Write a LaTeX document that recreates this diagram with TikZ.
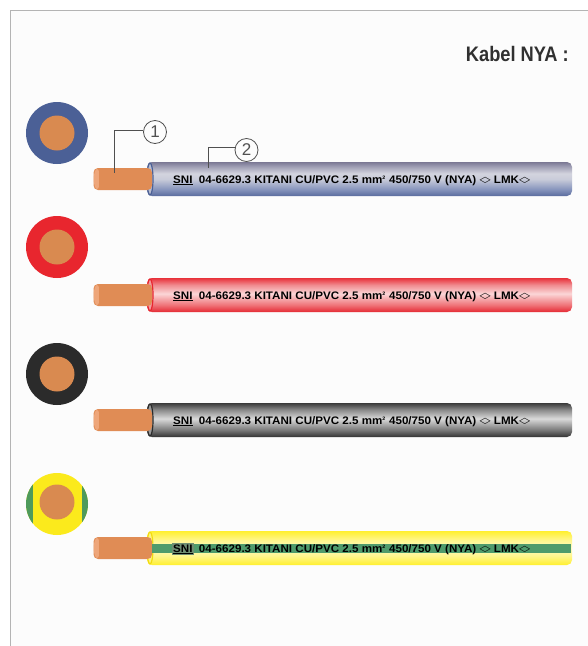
\documentclass[tikz,border=0pt]{standalone}
\usepackage{fontspec}
\setmainfont{Liberation Sans}
\newfontfamily\symfont{DejaVu Sans}
\usetikzlibrary{calc}

% palette
\definecolor{framegrey}{HTML}{B4B4B4}
\definecolor{pagebg}{HTML}{FCFCFC}
\definecolor{titlecol}{HTML}{303030}
\definecolor{printcol}{HTML}{2A2A2A}
\definecolor{printgreen}{HTML}{1E3A28}
\definecolor{leadcol}{HTML}{505050}
\definecolor{coppercore}{HTML}{D98A50}
\definecolor{copper}{HTML}{E08C55}
\definecolor{copperlight}{HTML}{EEA67A}
\definecolor{ringblue}{HTML}{4B6096}
\definecolor{ringred}{HTML}{E8262E}
\definecolor{ringblack}{HTML}{2B2B2B}
\definecolor{ringyellow}{HTML}{FBEA1C}
\definecolor{ringgreen}{HTML}{4E9A5C}
\definecolor{stripegreen}{HTML}{4F9B6C}
\definecolor{snibox}{HTML}{6E8E72}
\definecolor{faceblue}{HTML}{B9BDD0}
\definecolor{facered}{HTML}{F29A9E}
\definecolor{faceblack}{HTML}{9A9A9A}
\definecolor{faceyellow}{HTML}{FFF480}
\definecolor{rimyellow}{HTML}{F2DC10}

% shading stops
\definecolor{bA}{HTML}{5A6C9E}\definecolor{bB}{HTML}{8795BD}\definecolor{bC}{HTML}{C9CCDA}
\definecolor{bD}{HTML}{D3D4DE}\definecolor{bE}{HTML}{9C9BB2}\definecolor{bF}{HTML}{7B7894}
\definecolor{rA}{HTML}{E52A34}\definecolor{rB}{HTML}{EF7176}\definecolor{rC}{HTML}{FBD6D7}
\definecolor{rD}{HTML}{F08A8E}\definecolor{rE}{HTML}{E8313A}
\definecolor{kA}{HTML}{333333}\definecolor{kB}{HTML}{777777}\definecolor{kC}{HTML}{DADADA}
\definecolor{kD}{HTML}{8A8A8A}\definecolor{kE}{HTML}{3A3A3A}
\definecolor{yA}{HTML}{FFEF2E}\definecolor{yB}{HTML}{FFF68A}\definecolor{yC}{HTML}{FFFBC4}

% insulation shadings (25bp = lower edge, 75bp = upper edge)
\pgfdeclareverticalshading{insblue}{100bp}{color(0bp)=(bA); color(25bp)=(bA);
  color(35bp)=(bB); color(50bp)=(bC); color(58bp)=(bD);
  color(69bp)=(bE); color(75bp)=(bF); color(100bp)=(bF)}
\pgfdeclareverticalshading{insred}{100bp}{color(0bp)=(rA); color(25bp)=(rA);
  color(35bp)=(rB); color(52bp)=(rC); color(65bp)=(rD);
  color(75bp)=(rE); color(100bp)=(rE)}
\pgfdeclareverticalshading{insblack}{100bp}{color(0bp)=(kA); color(25bp)=(kA);
  color(35bp)=(kB); color(52bp)=(kC); color(65bp)=(kD);
  color(75bp)=(kE); color(100bp)=(kE)}
\pgfdeclareverticalshading{insyellow}{100bp}{color(0bp)=(yA); color(25bp)=(yA);
  color(38bp)=(yB); color(50bp)=(yC); color(62bp)=(yB);
  color(75bp)=(yA); color(100bp)=(yA)}

% small open diamond used in the printed marking
\newcommand\insdiam{\raisebox{0.3pt}{\scalebox{1.25}[0.75]{\symfont\bfseries ◇}}}
\newcommand\cableprint{\underline{SNI}\ \ 04-6629.3 KITANI CU/PVC 2.5 mm\textsuperscript{\fontsize{5}{5}\selectfont 2}
  450/750 V (NYA) \insdiam\ LMK\insdiam}
\newsavebox\printbox

% one cable seen from the side: #1 centre line, #2 shading, #3 face fill, #4 face rim
\newcommand\drawcable[4]{%
  \shade[shading=#2, rounded corners=5] (147,#1-17) rectangle (572,#1+17);
  \filldraw[fill=#3, draw=#4, line width=1.2] (150,#1) ellipse[x radius=3, y radius=16.1];
  \fill[copper, rounded corners=4.5] (93.5,#1-11) rectangle (152,#1+11);
  \fill[copperlight] (97,#1) ellipse[x radius=3.2, y radius=10];
  \fill[copper] (99,#1-10) rectangle (103,#1+10);
}

\tikzset{
  ring/.style={circle, inner sep=0pt, minimum size=62pt},
  core/.style={circle, inner sep=0pt, minimum size=35pt, fill=coppercore},
  callout/.style={circle, draw=leadcol, line width=0.8pt, inner sep=0pt, minimum size=23pt,
    font=\fontsize{17}{17}\selectfont, text=leadcol},
  leader/.style={draw=leadcol, line width=0.8pt},
  printing/.style={anchor=base west, inner sep=0pt, text=printcol},
}

\begin{document}
\sbox\printbox{\bfseries\fontsize{10.9}{12}\selectfont\cableprint}
\pgfmathsetmacro\printscale{357/\the\wd\printbox}
\begin{tikzpicture}[x=1pt, y=-1pt]
  \useasboundingbox (0,0) rectangle (588,646);
  \fill[white] (0,0) rectangle (588,646);
  \fill[pagebg] (10,10) rectangle (588,646);
  \draw[framegrey, line width=1.3pt] (10.6,646) -- (10.6,10.6) -- (588,10.6);

  % heading
  \node[anchor=base east, inner sep=0pt, text=titlecol,
        font=\bfseries\fontsize{21}{21}\selectfont] (title) at (569,61.5)
        {\scalebox{0.87}[1]{Kabel NYA :}};

  % cross sections
  \node[ring, fill=ringblue] (xsA) at (57,133) {};
  \node[core] (coreA) at (xsA.center) {};
  \node[ring, fill=ringred] (xsB) at (57,247) {};
  \node[core] (coreB) at (xsB.center) {};
  \node[ring, fill=ringblack] (xsC) at (57,374) {};
  \node[core] (coreC) at (xsC.center) {};
  \node[ring, fill=ringyellow] (xsD) at (57,504) {};
  \begin{scope}
    \clip (xsD.center) circle[radius=31];
    \fill[ringgreen] (20,465) rectangle (32.5,545);
    \fill[ringgreen] (82,465) rectangle (95,545);
  \end{scope}
  \node[core] (coreD) at (57,502) {};

  % cables
  \drawcable{179}{insblue}{faceblue}{ringblue}
  \drawcable{295}{insred}{facered}{ringred}
  \drawcable{420}{insblack}{faceblack}{ringblack}
  \drawcable{548}{insyellow}{faceyellow}{rimyellow}
  \fill[stripegreen] (152,544) -- (571,544) -- (571,553) -- (152,553) -- cycle;
  \fill[snibox] (172,542.5) rectangle (194,554.5);

  % printed marking
  \node[printing] (printA) at (173,183) {\scalebox{\printscale}[1]{\usebox\printbox}};
  \node[printing] (printB) at (173,299) {\scalebox{\printscale}[1]{\usebox\printbox}};
  \node[printing] (printC) at (173,424) {\scalebox{\printscale}[1]{\usebox\printbox}};
  \node[printing, text=printgreen] (printD) at (173,552) {\scalebox{\printscale}[1]{\usebox\printbox}};

  % callouts
  \node[callout] (c1) at (155,132) {1};
  \node[callout] (c2) at (246.5,150) {2};
  \coordinate (lead1) at (114,173);
  \coordinate (lead2) at (208,168);
  \draw[leader] (c1.170) -| (lead1);
  \draw[leader] (c2.165) -| (lead2);
\end{tikzpicture}
\end{document}
